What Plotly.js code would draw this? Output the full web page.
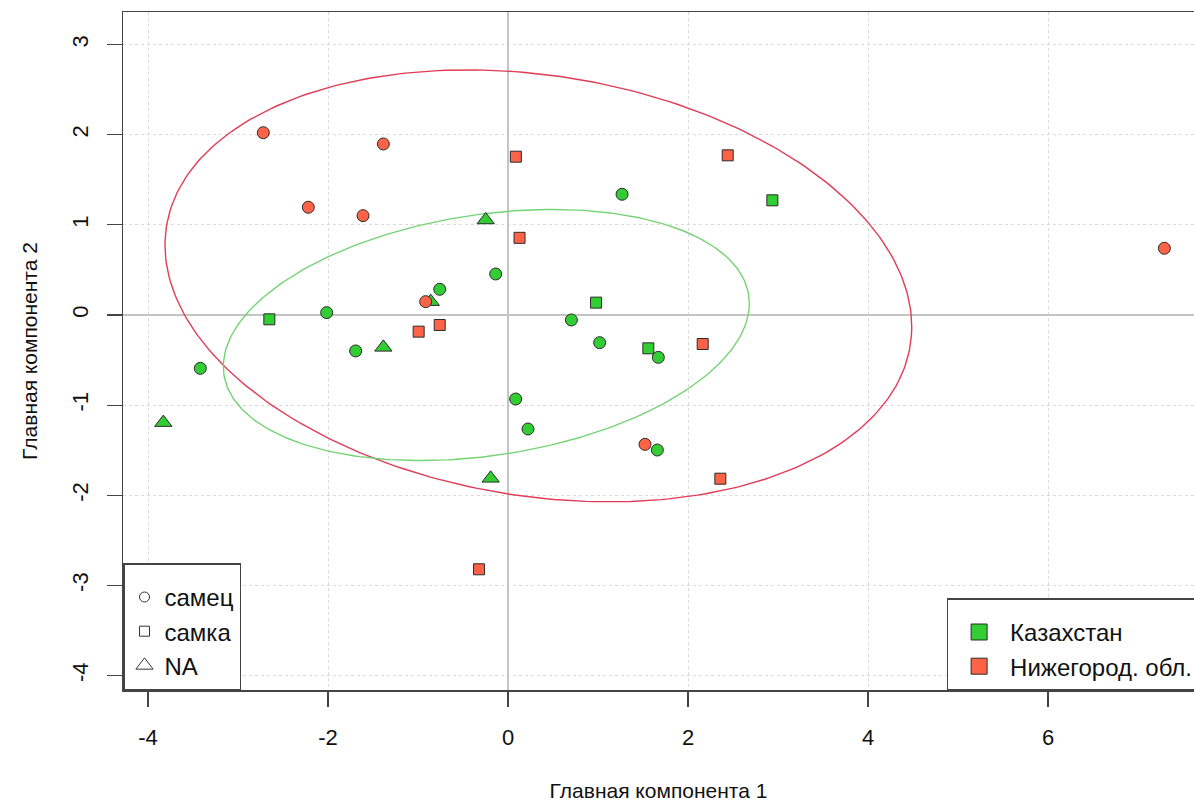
<!DOCTYPE html>
<html>
<head>
<meta charset="utf-8">
<script src="https://cdn.plot.ly/plotly-3.0.1.min.js"></script>
<style>html,body{margin:0;padding:0;background:#fff;overflow:hidden}</style>
</head>
<body>
<div id="chart" style="width:1194px;height:802px"></div>
<script>
// ---- data ----
const groups = ["Казахстан", "Нижегород. обл."];
const sexes = ["самец", "самка", "NA"];

// Казахстан
const kzMaleX   = [1.267, -0.137, -0.759, -2.015, -1.693, -3.419, 0.704, 1.018, 1.670, 0.085, 0.222, 1.659];
const kzMaleY   = [1.339, 0.455, 0.285, 0.026, -0.399, -0.592, -0.055, -0.307, -0.470, -0.932, -1.265, -1.498];
const kzFemaleX = [2.937, -2.652, 0.978, 1.559];
const kzFemaleY = [1.272, -0.048, 0.137, -0.370];
const kzNaX     = [-0.248, -0.859, -1.385, -3.830, -0.193];
const kzNaY     = [1.054, 0.148, -0.359, -1.194, -1.812];

// Нижегород. обл.
const nnMaleX   = [-2.719, -1.385, -2.219, -1.611, -0.915, 1.522, 7.293];
const nnMaleY   = [2.022, 1.897, 1.195, 1.102, 0.148, -1.435, 0.740];
const nnFemaleX = [0.087, 2.441, 0.128, -0.993, -0.759, 2.163, 2.359, -0.322];
const nnFemaleY = [1.756, 1.771, 0.856, -0.185, -0.111, -0.322, -1.816, -2.821];

// ellipse parameters (center, Sxx, Syy, Sxy) read from the drawn ellipses
const kzEllipse = {cx: -0.241, cy: -0.222, sxx: 8.54, syy: 1.94, sxy: 1.02};
const nnEllipse = {cx: 0.337, cy: 0.323, sxx: 17.21, syy: 5.74, sxy: -1.88};

const xTicks = [-4, -2, 0, 2, 4, 6];
const yTicks = [-4, -3, -2, -1, 0, 1, 2, 3];

// ---- styling ----
const GREEN = "#32CD32";
const RED = "#FF6347";
const EDGE = "#2b2b2b";

function ellipsePath(e, n) {
  const a = Math.sqrt(e.sxx);
  const b = e.sxy / a;
  const c = Math.sqrt(Math.max(e.syy - b * b, 0));
  const xs = [], ys = [];
  for (let i = 0; i <= n; i++) {
    const t = 2 * Math.PI * i / n;
    xs.push(e.cx + a * Math.cos(t));
    ys.push(e.cy + b * Math.cos(t) + c * Math.sin(t));
  }
  return {xs, ys};
}

const kzE = ellipsePath(kzEllipse, 300);
const nnE = ellipsePath(nnEllipse, 300);

function pts(x, y, color, symbol, size) {
  return {
    type: "scatter", mode: "markers", x: x, y: y, showlegend: false, hoverinfo: "x+y",
    marker: {color: color, symbol: symbol, size: size, line: {color: EDGE, width: 1}}
  };
}

const traces = [
  {type: "scatter", mode: "lines", x: nnE.xs, y: nnE.ys, showlegend: false, hoverinfo: "skip",
   line: {color: "#E23B55", width: 1.4}},
  {type: "scatter", mode: "lines", x: kzE.xs, y: kzE.ys, showlegend: false, hoverinfo: "skip",
   line: {color: "#74D374", width: 1.4}},
  pts(kzMaleX, kzMaleY, GREEN, "circle", 12),
  pts(kzFemaleX, kzFemaleY, GREEN, "square", 11),
  pts(kzNaX, kzNaY, GREEN, "triangle-up", 15),
  pts(nnMaleX, nnMaleY, RED, "circle", 12),
  pts(nnFemaleX, nnFemaleY, RED, "square", 11),
  // legend 1: sex (shape)
  {type: "scatter", mode: "markers", x: [null], y: [null], name: sexes[0], legend: "legend",
   marker: {symbol: "circle-open", size: 10, color: "#333", line: {width: 1}}},
  {type: "scatter", mode: "markers", x: [null], y: [null], name: sexes[1], legend: "legend",
   marker: {symbol: "square-open", size: 10, color: "#333", line: {width: 1}}},
  {type: "scatter", mode: "markers", x: [null], y: [null], name: sexes[2], legend: "legend",
   marker: {symbol: "triangle-up-open", size: 15, color: "#333", line: {width: 1}}},
  // legend 2: region (colour)
  {type: "scatter", mode: "markers", x: [null], y: [null], name: groups[0], legend: "legend2",
   marker: {symbol: "square", size: 16, color: GREEN, line: {color: EDGE, width: 1}}},
  {type: "scatter", mode: "markers", x: [null], y: [null], name: groups[1], legend: "legend2",
   marker: {symbol: "square", size: 16, color: RED, line: {color: EDGE, width: 1}}}
];

const FONT = "Liberation Sans, Arial, sans-serif";

const layout = {
  width: 1194, height: 802,
  margin: {l: 123, r: 0, t: 12, b: 112, autoexpand: false},
  paper_bgcolor: "#fff", plot_bgcolor: "#fff",
  font: {family: FONT, color: "#111"},
  xaxis: {
    range: [-4.278, 7.622], tickvals: xTicks, ticktext: xTicks.map(String),
    ticks: "outside", ticklen: 15, tickwidth: 1.2, tickcolor: "#444",
    tickfont: {family: FONT, size: 22, color: "#111"},
    ticklabelstandoff: 12,
    showgrid: true, gridcolor: "#dadada", griddash: "dot", gridwidth: 1,
    zeroline: true, zerolinecolor: "#c4c4c4", zerolinewidth: 1.5,
    showline: true, mirror: true, linecolor: "#444", linewidth: 1.5,
    title: {text: "Главная компонента 1", font: {family: FONT, size: 21, color: "#111"}, standoff: 38}
  },
  yaxis: {
    range: [-4.160, 3.361], tickvals: yTicks, ticktext: yTicks.map(String),
    ticks: "outside", ticklen: 15, tickwidth: 1.2, tickcolor: "#444",
    tickangle: -90,
    tickfont: {family: FONT, size: 22, color: "#111"},
    ticklabelstandoff: 10,
    showgrid: true, gridcolor: "#dadada", griddash: "dot", gridwidth: 1,
    zeroline: true, zerolinecolor: "#c4c4c4", zerolinewidth: 1.5,
    showline: true, mirror: false, linecolor: "#444", linewidth: 1.5,
    title: {text: "Главная компонента 2", font: {family: FONT, size: 21, color: "#111"}, standoff: 24}
  },
  legend: {
    x: 0, y: 0, xanchor: "left", yanchor: "bottom",
    bgcolor: "#fff", bordercolor: "#444", borderwidth: 1.5,
    title: {text: " ", font: {size: 8}},
    font: {family: FONT, size: 24, color: "#111"}, itemwidth: 30, tracegroupgap: 0
  },
  legend2: {
    x: 0.769, y: 0, xanchor: "left", yanchor: "bottom",
    bgcolor: "#fff", bordercolor: "#444", borderwidth: 1.5,
    title: {text: " ", font: {size: 8}},
    font: {family: FONT, size: 24, color: "#111"}, itemwidth: 52, tracegroupgap: 0
  },
  showlegend: true
};

Plotly.newPlot("chart", traces, layout, {displayModeBar: false, staticPlot: true});
</script>
</body>
</html>
